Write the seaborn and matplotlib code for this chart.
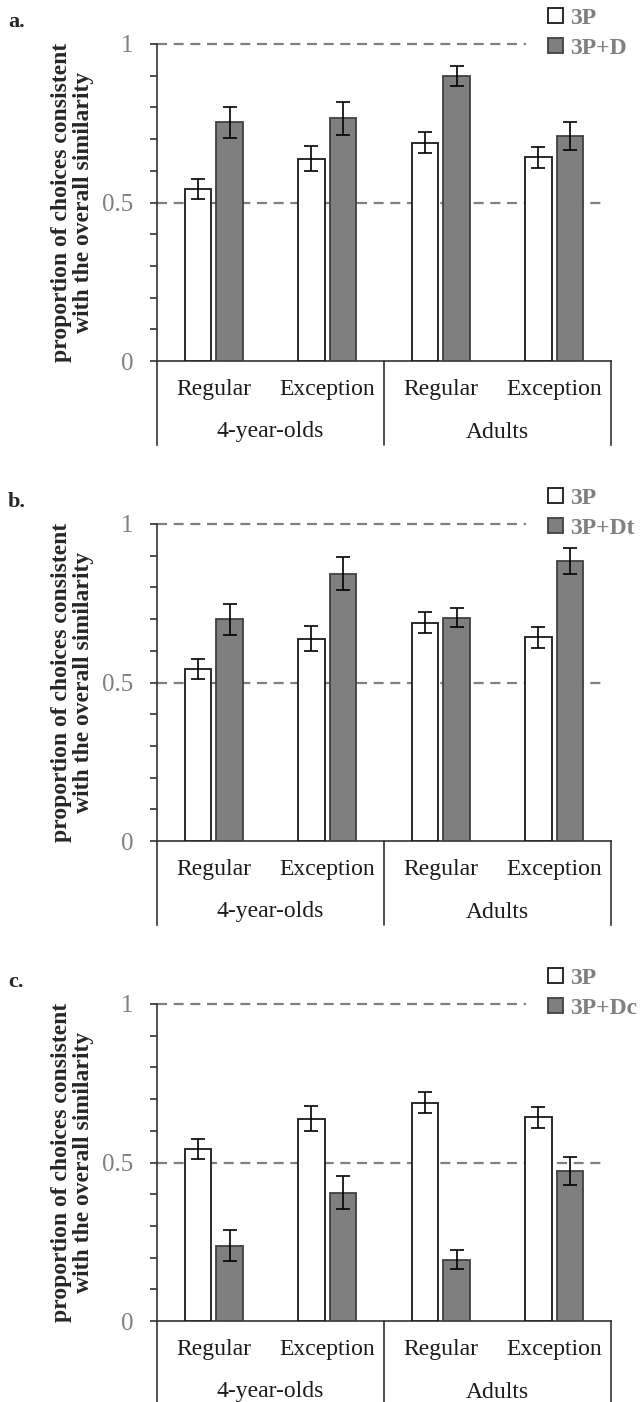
import numpy as np
import matplotlib.pyplot as plt
import seaborn as sns
import pandas as pd

ages = ["4-year-olds", "4-year-olds", "Adults", "Adults"]
items = ["Regular", "Exception", "Regular", "Exception"]
groups = ["4-year-olds", "Adults"]

# 3P condition is the same in every panel
base_mean = [0.542, 0.638, 0.689, 0.642]
base_err = [0.032, 0.040, 0.032, 0.033]

panel_labels = ["a.", "b.", "c."]
distractor_names = ["3P+D", "3P+Dt", "3P+Dc"]
distractor_means = [
    [0.753, 0.765, 0.900, 0.711],
    [0.700, 0.843, 0.705, 0.883],
    [0.238, 0.404, 0.194, 0.472],
]
distractor_errs = [
    [0.048, 0.053, 0.032, 0.044],
    [0.049, 0.052, 0.031, 0.042],
    [0.049, 0.052, 0.030, 0.044],
]

sns.set_theme(style="white")
plt.rcParams['font.family'] = ['Liberation Serif', 'DejaVu Serif']

W, H = 642, 1402
fig = plt.figure(figsize=(W / 100, H / 100), dpi=100)

line_col = '#333333'
grey = '#808080'
table_depth = 84 / 317

for i in range(3):
    y0 = 361 + 480 * i
    ax = fig.add_axes([157 / W, 1 - y0 / H, 454 / W, 317 / H])

    df = pd.DataFrame({
        'slot': [f"{a} {c}" for a, c in zip(ages, items)] * 2,
        'condition': ['3P'] * 4 + [distractor_names[i]] * 4,
        'value': base_mean + distractor_means[i],
    })
    sns.barplot(data=df, x='slot', y='value', hue='condition',
                palette=['white', '#7f7f7f'], width=0.56, gap=0.17,
                errorbar=None, linewidth=1.3, legend=False, zorder=3, ax=ax)

    bars = list(ax.containers)
    for cont, ec, err in zip(bars, ['#1a1a1a', '#404040'], [base_err, distractor_errs[i]]):
        for b in cont:
            b.set_edgecolor(ec)
        xs = [b.get_x() + b.get_width() / 2 for b in cont]
        ys = [b.get_height() for b in cont]
        ax.errorbar(xs, ys, yerr=err, fmt='none', ecolor='black',
                    elinewidth=1.2, capsize=5, capthick=1.2, zorder=4)

    ax.axhline(0.5, xmax=0.985, color=grey, lw=1.6, dashes=(4.5, 3), zorder=1)
    ax.axhline(1.0, xmax=0.813, color=grey, lw=1.6, dashes=(4.5, 3), zorder=1, clip_on=False)

    ax.set_xlim(-0.5, 3.5)
    ax.set_ylim(0, 1)
    ax.set_xlabel('')
    ax.set_ylabel('')
    ax.set_yticks([0, 0.5, 1])
    ax.set_yticklabels(['0', '0.5', '1'])
    ax.set_yticks(np.arange(0.1, 1.0, 0.1), minor=True)
    ax.tick_params(axis='y', which='both', direction='out', length=5, width=1.2,
                   color=line_col, left=True, labelsize=18, labelcolor=grey, pad=12)
    ax.tick_params(axis='x', length=0, labelbottom=False)

    ax.spines['top'].set_visible(False)
    for s in ['left', 'right', 'bottom']:
        ax.spines[s].set_color(line_col)
        ax.spines[s].set_linewidth(1.2)
    ax.spines['left'].set_bounds(-table_depth, 1)
    ax.spines['right'].set_bounds(-table_depth, 0)
    ax.plot([1.5, 1.5], [0, -table_depth], color=line_col, lw=1.2, clip_on=False)

    for x, t in enumerate(items):
        ax.text(x, -29 / 317, t, ha='center', va='center', fontsize=17, color='#1a1a1a')
    for x, g in zip([0.5, 2.5], groups):
        ax.text(x, -71 / 317, g, ha='center', va='center', fontsize=17, color='#1a1a1a')

    ax.text(-0.187, 0.5, "proportion of choices consistent\nwith the overall similarity",
            transform=ax.transAxes, rotation=90, ha='center', va='center',
            fontsize=17, fontweight='bold', linespacing=1.05, multialignment='center')

    ax.legend(handles=bars, labels=['3P', distractor_names[i]], loc='upper left',
              bbox_to_anchor=(0.862, 1.115), frameon=False, borderpad=0, borderaxespad=0,
              handlelength=0.6, handleheight=0.6, handletextpad=0.3, labelspacing=0.38,
              prop={'weight': 'bold', 'size': 17}, labelcolor=grey)

    fig.text(8 / W, 1 - (27 + 480 * i) / H, panel_labels[i], fontsize=16,
             fontweight='bold', va='baseline', ha='left')

fig.savefig('out.png', dpi=100)
